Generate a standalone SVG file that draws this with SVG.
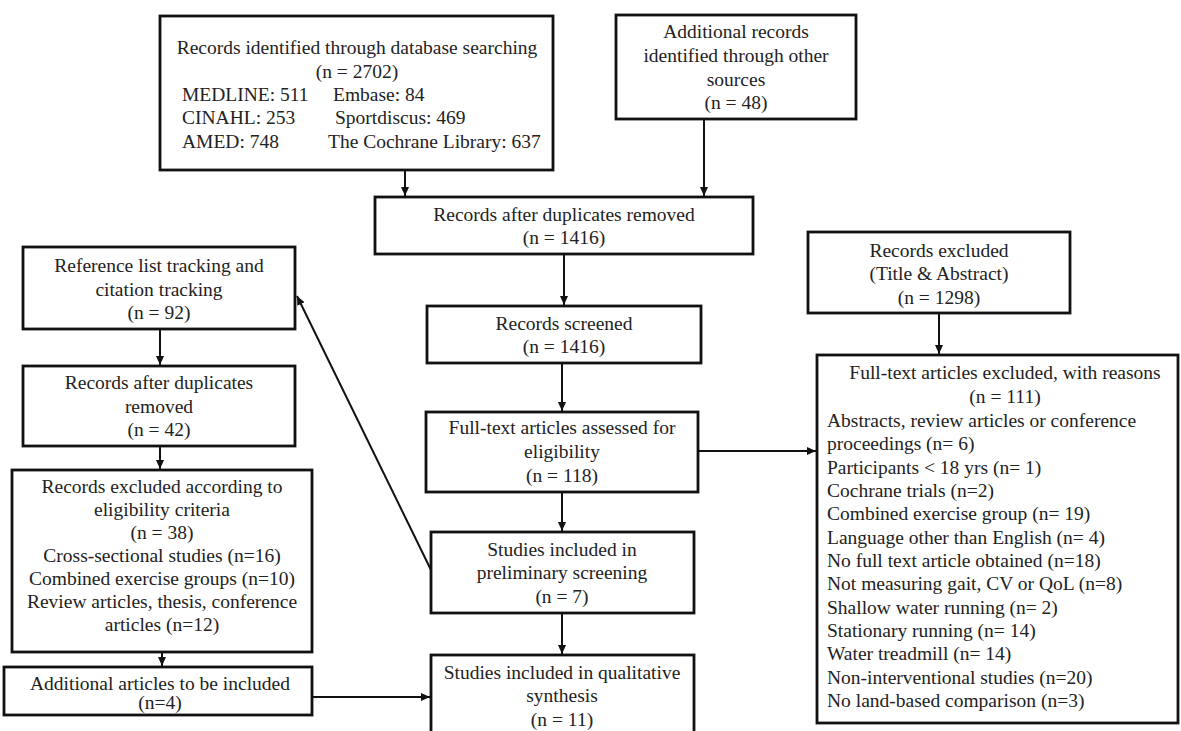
<svg xmlns="http://www.w3.org/2000/svg" width="1181" height="731" viewBox="0 0 1181 731">
<defs>
<style>
.box{fill:#fff;stroke:#111;stroke-width:2.8}
.t{font-family:"Liberation Serif","Times New Roman",serif;font-size:19.5px;fill:#222}
.c{text-anchor:middle}
.ln{stroke:#111;stroke-width:2;fill:none}
</style>
<marker id="ah" markerUnits="userSpaceOnUse" markerWidth="9" markerHeight="8" refX="9" refY="4" orient="auto">
<path d="M0,0 L9,4 L0,8 z" fill="#111"/>
</marker>
</defs>
<rect width="1181" height="731" fill="#fff"/>

<g id="connectors">
<line class="ln" x1="405" y1="170" x2="405" y2="196" marker-end="url(#ah)"/>
<line class="ln" x1="704" y1="119" x2="704" y2="196" marker-end="url(#ah)"/>
<line class="ln" x1="564" y1="254" x2="564" y2="305" marker-end="url(#ah)"/>
<line class="ln" x1="562" y1="363" x2="562" y2="411" marker-end="url(#ah)"/>
<line class="ln" x1="562" y1="492" x2="562" y2="531" marker-end="url(#ah)"/>
<line class="ln" x1="562" y1="613" x2="562" y2="654" marker-end="url(#ah)"/>
<line class="ln" x1="698" y1="451" x2="816" y2="451" marker-end="url(#ah)"/>
<line class="ln" x1="939" y1="313" x2="939" y2="354" marker-end="url(#ah)"/>
<line class="ln" x1="431" y1="570" x2="297" y2="296" marker-end="url(#ah)"/>
<line class="ln" x1="160" y1="329" x2="160" y2="365" marker-end="url(#ah)"/>
<line class="ln" x1="160" y1="446" x2="160" y2="469" marker-end="url(#ah)"/>
<line class="ln" x1="162" y1="652" x2="162" y2="666" marker-end="url(#ah)"/>
<line class="ln" x1="312" y1="697" x2="430" y2="697" marker-end="url(#ah)"/>
</g>

<g id="db-search">
<rect class="box" x="160" y="16" width="393" height="154"/>
<text class="t c" x="357" y="54">Records identified through database searching</text>
<text class="t c" x="357" y="78">(n =  2702)</text>
<text class="t" x="182" y="101">MEDLINE:  511</text>
<text class="t" x="333" y="101">Embase: 84</text>
<text class="t" x="182" y="124">CINAHL: 253</text>
<text class="t" x="335" y="124">Sportdiscus: 469</text>
<text class="t" x="182" y="148">AMED:  748</text>
<text class="t" x="328" y="148">The Cochrane Library:  637</text>
</g>

<g id="other-sources">
<rect class="box" x="616" y="15" width="240" height="104"/>
<text class="t c" x="736" y="38">Additional records</text>
<text class="t c" x="736" y="62">identified through other</text>
<text class="t c" x="736" y="86">sources</text>
<text class="t c" x="736" y="109">(n =  48)</text>
</g>

<g id="after-duplicates">
<rect class="box" x="375" y="197" width="378" height="57"/>
<text class="t c" x="564" y="221">Records after duplicates removed</text>
<text class="t c" x="564" y="244">(n =  1416)</text>
</g>

<g id="screened">
<rect class="box" x="427" y="306" width="274" height="57"/>
<text class="t c" x="564" y="330">Records screened</text>
<text class="t c" x="564" y="353">(n =  1416)</text>
</g>

<g id="full-text-assessed">
<rect class="box" x="426" y="412" width="272" height="80"/>
<text class="t c" x="562" y="434">Full-text  articles  assessed for</text>
<text class="t c" x="562" y="458">eligibility</text>
<text class="t c" x="562" y="482">(n =  118)</text>
</g>

<g id="preliminary">
<rect class="box" x="431" y="532" width="263" height="81"/>
<text class="t c" x="562" y="556">Studies included in</text>
<text class="t c" x="562" y="579">preliminary  screening</text>
<text class="t c" x="562" y="603">(n = 7)</text>
</g>

<g id="qualitative">
<rect class="box" x="431" y="655" width="263" height="90"/>
<text class="t c" x="562" y="679">Studies included in qualitative</text>
<text class="t c" x="562" y="702">synthesis</text>
<text class="t c" x="562" y="726">(n = 11)</text>
</g>

<g id="reference-tracking">
<rect class="box" x="23" y="247" width="272" height="82"/>
<text class="t c" x="159" y="272">Reference list tracking and</text>
<text class="t c" x="159" y="296">citation tracking</text>
<text class="t c" x="159" y="319">(n = 92)</text>
</g>

<g id="left-duplicates">
<rect class="box" x="23" y="366" width="272" height="80"/>
<text class="t c" x="159" y="389">Records after duplicates</text>
<text class="t c" x="159" y="413">removed</text>
<text class="t c" x="159" y="436">(n = 42)</text>
</g>

<g id="left-excluded">
<rect class="box" x="12" y="470" width="300" height="182"/>
<text class="t c" x="162" y="493">Records excluded according to</text>
<text class="t c" x="162" y="516">eligibility  criteria</text>
<text class="t c" x="162" y="539">(n =  38)</text>
<text class="t c" x="162" y="562">Cross-sectional studies (n=16)</text>
<text class="t c" x="162" y="585">Combined exercise  groups (n=10)</text>
<text class="t c" x="162" y="608">Review articles, thesis, conference</text>
<text class="t c" x="162" y="631">articles  (n=12)</text>
</g>

<g id="additional-articles">
<rect class="box" x="4" y="667" width="308" height="48"/>
<text class="t c" x="160" y="690">Additional  articles  to be included</text>
<text class="t c" x="160" y="709">(n=4)</text>
</g>

<g id="title-abstract-excluded">
<rect class="box" x="808" y="232" width="262" height="81"/>
<text class="t c" x="939" y="257">Records excluded</text>
<text class="t c" x="939" y="280">(Title  &amp; Abstract)</text>
<text class="t c" x="939" y="304">(n =  1298)</text>
</g>

<g id="full-text-excluded">
<rect class="box" x="817" y="355" width="361" height="368"/>
<text class="t c" x="1005" y="379">Full-text  articles  excluded, with  reasons</text>
<text class="t c" x="1005" y="403">(n = 111)</text>
<text class="t" x="827" y="427">Abstracts, review  articles  or conference</text>
<text class="t" x="827" y="450">proceedings (n= 6)</text>
<text class="t" x="827" y="474">Participants &lt; 18 yrs (n= 1)</text>
<text class="t" x="827" y="497">Cochrane trials  (n=2)</text>
<text class="t" x="827" y="520">Combined exercise group (n= 19)</text>
<text class="t" x="827" y="544">Language  other than English  (n= 4)</text>
<text class="t" x="827" y="567">No full  text article  obtained (n=18)</text>
<text class="t" x="827" y="590">Not measuring gait, CV or QoL (n=8)</text>
<text class="t" x="827" y="614">Shallow  water running  (n= 2)</text>
<text class="t" x="827" y="637">Stationary running  (n= 14)</text>
<text class="t" x="827" y="660">Water treadmill  (n= 14)</text>
<text class="t" x="827" y="684">Non-interventional  studies (n=20)</text>
<text class="t" x="827" y="707">No land-based comparison (n=3)</text>
</g>
</svg>
